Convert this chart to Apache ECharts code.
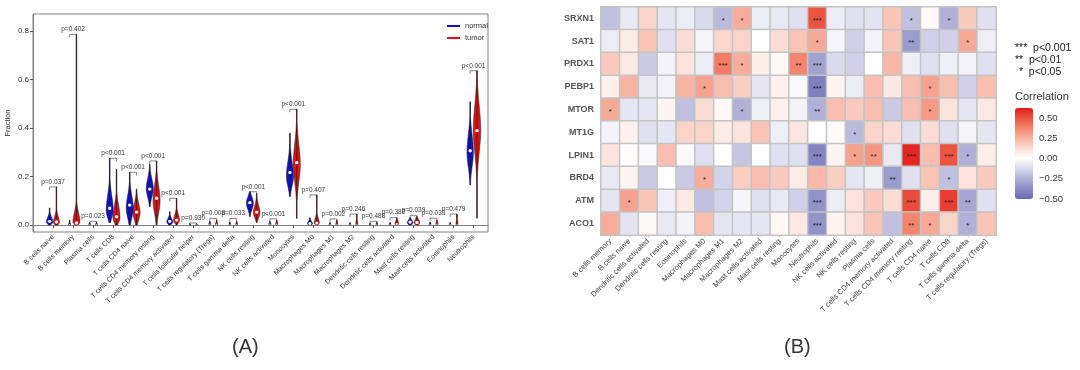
<!DOCTYPE html>
<html><head><meta charset="utf-8">
<script src="https://cdn.jsdelivr.net/npm/echarts@6/dist/echarts.min.js"></script>
<style>html,body{margin:0;padding:0;background:#fff}#c{width:1080px;height:370px}</style>
</head><body><div id="c"></div>
<script>
// ---------- Panel A: violin data ----------
const violinCats = ['B cells naive','B cells memory','Plasma cells','T cells CD8','T cells CD4 naive','T cells CD4 memory resting','T cells CD4 memory activated','T cells follicular helper','T cells regulatory (Tregs)','T cells gamma delta','NK cells resting','NK cells activated','Monocytes','Macrophages M0','Macrophages M1','Macrophages M2','Dendritic cells resting','Dendritic cells activated','Mast cells resting','Mast cells activated','Eosinophils','Neutrophils'];
const groups = ['normal','tumor'];
const normMin  = [0,0,0,0.01,0,0.075,0,0,0,0,0.034,0,0.117,0,0,0,0,0,0,0,0,0.165];
const normMax  = [0.07,0.02,0.01,0.275,0.217,0.25,0.055,0.005,0.015,0.012,0.137,0.015,0.378,0.03,0.01,0.01,0.008,0.01,0.03,0.012,0.01,0.508];
const normMed  = [0.015,0.002,0.002,0.069,0.082,0.148,0.015,0.001,0.003,0.002,0.092,0.003,0.216,0.006,0.002,0.002,0.001,0.002,0.012,0.002,0.002,0.306];
const normPeak = [0.012,0.002,0.002,0.06,0.07,0.15,0.012,0.001,0.003,0.002,0.09,0.003,0.2,0.005,0.002,0.002,0.001,0.002,0.01,0.002,0.002,0.3];
const normWidth = [3.2,1,1,3.5,3.5,3.5,3,0.8,1,1,3.5,1.2,3.5,2.5,1,1,0.8,1,2.8,1,1,3.2];
const normSpreadDown = [0.008,0.002,0.002,0.03,0.04,0.035,0.008,0.001,0.003,0.002,0.025,0.003,0.04,0.005,0.002,0.002,0.001,0.002,0.008,0.002,0.002,0.06];
const normSpreadUp = [0.02,0.006,0.004,0.06,0.05,0.04,0.015,0.002,0.006,0.005,0.025,0.006,0.06,0.01,0.004,0.004,0.003,0.004,0.01,0.005,0.004,0.07];

const tumorMin  = [0,0,0,0,0,0,0,0,0,0,0.01,0,0.027,0,0,0,0,0,0,0,0,0.028];
const tumorMax  = [0.157,0.786,0.012,0.23,0.148,0.264,0.11,0.005,0.02,0.015,0.13,0.02,0.477,0.124,0.02,0.045,0.012,0.03,0.035,0.02,0.045,0.636];
const tumorMed  = [0.012,0.008,0.002,0.034,0.053,0.11,0.02,0.001,0.003,0.003,0.053,0.003,0.257,0.008,0.003,0.003,0.002,0.004,0.01,0.003,0.003,0.389];
const tumorPeak = [0.01,0.01,0.002,0.03,0.05,0.1,0.018,0.001,0.003,0.003,0.05,0.003,0.25,0.008,0.003,0.003,0.002,0.004,0.01,0.003,0.003,0.39];
const tumorWidth = [3,3.5,1,3.5,3.5,3.5,3,0.8,1.2,1,3.3,1.2,3.5,2.5,1,1,0.8,1.8,2.8,1.2,1,3.7];
const tumorSpreadDown = [0.008,0.008,0.002,0.02,0.03,0.05,0.01,0.001,0.003,0.003,0.02,0.003,0.07,0.006,0.003,0.003,0.002,0.004,0.008,0.003,0.003,0.09];
const tumorSpreadUp = [0.025,0.04,0.005,0.05,0.04,0.06,0.025,0.002,0.008,0.006,0.03,0.008,0.08,0.02,0.008,0.015,0.005,0.012,0.012,0.008,0.015,0.1];

const pBracket = [0.157,0.786,0.015,0.275,0.217,0.264,0.11,0.008,0.027,0.027,0.137,0.025,0.477,0.124,0.025,0.045,0.015,0.03,0.04,0.028,0.045,0.636];
const pText = ['p=0.037','p=0.402','p=0.023','p<0.001','p<0.001','p<0.001','p<0.001','p=0.930','p=0.008','p=0.033','p<0.001','p<0.001','p<0.001','p=0.407','p=0.002','p=0.246','p=0.488','p=0.380','p=0.039','p=0.033','p=0.479','p<0.001'];
const fractionTicks = [0, 0.2, 0.4, 0.6, 0.8];

// ---------- Panel B: correlation heatmap ----------
const heatCols = ['B cells memory','B cells naive','Dendritic cells activated','Dendritic cells resting','Eosinophils','Macrophages M0','Macrophages M1','Macrophages M2','Mast cells activated','Mast cells resting','Monocytes','Neutrophils','NK cells activated','NK cells resting','Plasma cells','T cells CD4 memory activated','T cells CD4 memory resting','T cells CD4 naive','T cells CD8','T cells gamma delta','T cells regulatory (Tregs)'];
const heatRows = ['SRXN1','SAT1','PRDX1','PEBP1','MTOR','MT1G','LPIN1','BRD4','ATM','ACO1'];
const corrSRXN1 = [-0.2,-0.07,0.15,-0.08,-0.06,-0.12,-0.22,0.27,-0.06,-0.07,-0.1,0.5,-0.06,-0.1,-0.09,0.2,-0.2,0.02,-0.25,0.18,-0.1];
const corrSAT1  = [-0.06,0.07,0.2,-0.1,0.12,-0.03,0.14,0.15,0.0,0.12,0.2,0.28,-0.03,-0.15,-0.04,0.2,-0.32,-0.15,-0.15,0.28,-0.05];
const corrPRDX1 = [0.18,0.08,-0.17,-0.04,0.1,-0.06,0.4,0.27,0.06,0.02,0.38,-0.3,-0.12,-0.15,0.0,0.24,-0.05,-0.1,-0.05,-0.04,-0.1];
const corrPEBP1 = [0.05,0.25,-0.07,-0.04,0.25,0.3,0.22,0.17,-0.08,0.05,-0.02,-0.42,0.04,-0.06,0.22,0.08,0.22,0.3,0.22,-0.15,0.22];
const corrMTOR  = [0.28,-0.08,-0.08,0.04,-0.2,0.12,0.02,-0.25,-0.05,0.05,-0.04,-0.25,0.22,0.18,0.22,-0.17,0.22,0.32,0.1,-0.08,0.08];
const corrMT1G  = [-0.04,0.05,-0.1,-0.08,0.15,0.15,0.07,0.1,0.2,-0.05,0.09,0.0,0.02,-0.22,0.15,0.12,-0.1,0.12,-0.1,-0.03,-0.08];
const corrLPIN1 = [0.1,0.01,-0.02,0.22,-0.02,-0.1,0.0,-0.18,0.0,-0.1,-0.1,-0.4,0.04,0.3,0.33,-0.07,0.6,0.22,0.5,-0.25,0.06];
const corrBRD4  = [-0.07,0.04,-0.17,0.0,-0.17,0.27,-0.14,0.17,0.22,0.18,0.07,0.23,0.17,-0.08,-0.05,-0.32,-0.1,0.2,-0.2,0.1,0.18];
const corrATM   = [-0.08,0.3,0.2,-0.05,0.08,-0.2,-0.14,-0.03,-0.1,-0.07,-0.15,-0.35,-0.06,0.1,0.18,0.12,0.52,0.06,0.55,-0.28,-0.1];
const corrACO1  = [0.27,-0.09,0.03,-0.07,-0.04,0.22,-0.08,-0.08,-0.08,0.03,0.08,-0.35,0.04,0.1,0.2,-0.2,0.38,0.28,0.15,-0.25,0.2];
const corrMatrix = [corrSRXN1,corrSAT1,corrPRDX1,corrPEBP1,corrMTOR,corrMT1G,corrLPIN1,corrBRD4,corrATM,corrACO1];
// significance marks: [row, col, mark]
const sigMarks = [
  [0,6,'*'],[0,7,'*'],[0,11,'***'],[0,16,'*'],[0,18,'*'],
  [1,11,'*'],[1,16,'**'],[1,19,'*'],
  [2,6,'***'],[2,7,'*'],[2,10,'**'],[2,11,'***'],
  [3,5,'*'],[3,11,'***'],[3,17,'*'],
  [4,0,'*'],[4,7,'*'],[4,11,'**'],[4,17,'*'],
  [5,13,'*'],
  [6,11,'***'],[6,13,'*'],[6,14,'**'],[6,16,'***'],[6,18,'***'],[6,19,'*'],
  [7,5,'*'],[7,15,'**'],[7,18,'*'],
  [8,1,'*'],[8,11,'***'],[8,16,'***'],[8,18,'***'],[8,19,'**'],
  [9,11,'***'],[9,16,'**'],[9,17,'*'],[9,19,'*']
];
const colorbarTicks = [-0.5, -0.25, 0, 0.25, 0.5];
const sigLegend = ['***  p<0.001', '**  p<0.01', ' *  p<0.05'];

// ---------- build ----------
const FONT = 'Liberation Sans, Arial, sans-serif';
const OFF = 0.17;
const normData = violinCats.map((c, i) => [i + 1, normMin[i], normMax[i], normMed[i], normPeak[i], normWidth[i], normSpreadDown[i], normSpreadUp[i]]);
const tumorData = violinCats.map((c, i) => [i + 1, tumorMin[i], tumorMax[i], tumorMed[i], tumorPeak[i], tumorWidth[i], tumorSpreadDown[i], tumorSpreadUp[i]]);
const bracketData = violinCats.map((c, i) => [i + 1, pBracket[i]]);

const sigLookup = {};
sigMarks.forEach(s => { sigLookup[s[0] + '_' + s[1]] = s[2]; });
const heatData = [];
corrMatrix.forEach((row, r) => row.forEach((v, c) => heatData.push([c, r, v])));

function violinRender(offset) {
  return function (params, api) {
    const cat = api.value(0), lo = api.value(1), hi = api.value(2), med = api.value(3),
      peak = api.value(4), hw = api.value(5), sd = api.value(6), su = api.value(7);
    const cx = api.coord([cat + offset, 0])[0];
    const right = [], left = [];
    const N = 80;
    for (let k = 0; k <= N; k++) {
      const y = lo + (hi - lo) * k / N;
      const s = y < peak ? sd : su;
      const z = (y - peak) / s;
      const w = Math.max(hw * Math.exp(-0.5 * z * z), 0.3);
      const py = api.coord([cat, y])[1];
      right.push([cx + w, py]);
      left.unshift([cx - w, py]);
    }
    const color = api.visual('color');
    return {
      type: 'group', children: [
        { type: 'polygon', shape: { points: right.concat(left) }, style: { fill: color, stroke: '#111', lineWidth: 0.5 } },
        { type: 'line', shape: { x1: cx, y1: api.coord([cat, lo])[1], x2: cx, y2: api.coord([cat, hi])[1] }, style: { stroke: '#111', lineWidth: 0.6 } },
        { type: 'circle', shape: { cx: cx, cy: api.coord([cat, med])[1], r: Math.min(1.7, hw * 0.6) }, style: { fill: '#fff' } }
      ]
    };
  };
}
function bracketRender(params, api) {
  const cat = api.value(0), yb = api.value(1);
  const l = api.coord([cat - OFF, yb]), r = api.coord([cat + OFF, yb]);
  return {
    type: 'group', children: [
      { type: 'polyline', shape: { points: [[l[0], l[1] + 3], [l[0], l[1]], [r[0], r[1]], [r[0], r[1] + 3]] }, style: { stroke: '#333', lineWidth: 0.6, fill: null } },
      { type: 'text', style: { text: pText[params.dataIndex], x: (l[0] + r[0]) / 2, y: l[1] - 1.5, align: 'center', verticalAlign: 'bottom', fontSize: 6.5, fill: '#333', fontFamily: FONT } }
    ]
  };
}

const chart = echarts.init(document.getElementById('c'), null, { renderer: 'canvas' });
const option = {
  animation: false,
  backgroundColor: '#fff',
  textStyle: { fontFamily: FONT },
  legend: {
    data: groups, left: 442, top: 17, orient: 'vertical', icon: 'rect',
    itemWidth: 13, itemHeight: 2, itemGap: 4, textStyle: { fontSize: 7.5, color: '#333' }
  },
  grid: [
    { left: 33, top: 14, width: 455, height: 218, show: true, borderColor: '#808080', borderWidth: 1 },
    { left: 601, top: 7, width: 395, height: 228, show: true, borderColor: '#c4c4c4', borderWidth: 2, backgroundColor: '#c4c4c4' },
    { left: 1015, top: 108, width: 18, height: 91 }
  ],
  xAxis: [
    {
      type: 'value', gridIndex: 0, min: 0, max: 22.72,
      axisLine: { show: true, lineStyle: { color: '#808080' } },
      axisTick: { show: true, customValues: violinCats.map((c, i) => i + 1), length: 3, lineStyle: { color: '#555' } },
      axisLabel: { customValues: violinCats.map((c, i) => i + 1), formatter: v => violinCats[Math.round(v) - 1] || '', rotate: 45, fontSize: 7, color: '#333', margin: 4 },
      splitLine: { show: false }
    },
    {
      type: 'category', gridIndex: 1, data: heatCols,
      axisLine: { show: false },
      axisTick: { show: true, alignWithLabel: true, length: 2, lineStyle: { color: '#ccc' } },
      axisLabel: { rotate: 45, interval: 0, fontSize: 7.5, color: '#444', margin: 5 }
    },
    { type: 'value', gridIndex: 2, show: false, min: 0, max: 1 }
  ],
  yAxis: [
    {
      type: 'value', gridIndex: 0, min: -0.029, max: 0.87,
      name: 'Fraction', nameLocation: 'middle', nameGap: 21, nameTextStyle: { fontSize: 7.5, color: '#333' },
      axisLine: { show: true, lineStyle: { color: '#808080' } },
      axisTick: { show: true, customValues: fractionTicks, length: 3, lineStyle: { color: '#555' } },
      axisLabel: { customValues: fractionTicks, formatter: v => v.toFixed(1), fontSize: 8, color: '#333', margin: 4 },
      splitLine: { show: false }
    },
    {
      type: 'category', gridIndex: 1, data: heatRows, inverse: true,
      axisLine: { show: false }, axisTick: { show: false },
      axisLabel: { fontWeight: 'bold', fontSize: 9, color: '#555', margin: 7 }
    },
    {
      type: 'value', gridIndex: 2, min: -0.5, max: 0.625, position: 'right', z: 10,
      axisLine: { show: false },
      axisTick: { show: true, inside: true, customValues: colorbarTicks, length: 3, lineStyle: { color: '#fff', width: 1 } },
      axisLabel: { customValues: colorbarTicks, formatter: v => v.toFixed(2).replace('-', '\u2212'), fontSize: 9.5, color: '#333', margin: 6 },
      splitLine: { show: false }
    }
  ],
  visualMap: {
    type: 'continuous', seriesIndex: 3, dimension: 2, min: -0.5, max: 0.625,
    inRange: { color: ['#6a6ab5', '#8c8cc6', '#b0b0d8', '#d8d8ec', '#ffffff', '#fcdcd3', '#f8b4a3', '#f3866f', '#ec5442', '#e31a1c'] },
    left: 1015, top: 108, itemWidth: 18, itemHeight: 91, calculable: false, padding: 0, orient: 'vertical'
  },
  graphic: [
    { type: 'text', left: 232, top: 337, style: { text: '(A)', fontSize: 20, fill: '#333', fontFamily: FONT } },
    { type: 'text', left: 784, top: 337, style: { text: '(B)', fontSize: 20, fill: '#333', fontFamily: FONT } },
    { type: 'text', left: 1015, top: 43, style: { text: sigLegend[0], fontSize: 10.5, fill: '#222', fontFamily: FONT } },
    { type: 'text', left: 1015, top: 55, style: { text: sigLegend[1], fontSize: 10.5, fill: '#222', fontFamily: FONT } },
    { type: 'text', left: 1016, top: 67, style: { text: sigLegend[2], fontSize: 10.5, fill: '#222', fontFamily: FONT } },
    { type: 'text', left: 1015, top: 91, style: { text: 'Correlation', fontSize: 11, fill: '#333', fontFamily: FONT } }
  ],
  series: [
    { name: 'normal', type: 'custom', xAxisIndex: 0, yAxisIndex: 0, itemStyle: { color: '#1414c4' }, renderItem: violinRender(-OFF), data: normData, encode: { x: 0, y: [1, 2] } },
    { name: 'tumor', type: 'custom', xAxisIndex: 0, yAxisIndex: 0, itemStyle: { color: '#e01212' }, renderItem: violinRender(OFF), data: tumorData, encode: { x: 0, y: [1, 2] } },
    { name: 'pvalue', type: 'custom', xAxisIndex: 0, yAxisIndex: 0, renderItem: bracketRender, data: bracketData, encode: { x: 0, y: 1 }, silent: true },
    {
      name: 'corr', type: 'heatmap', xAxisIndex: 1, yAxisIndex: 1, data: heatData,
      itemStyle: { borderColor: '#c4c4c4', borderWidth: 1.5 },
      label: { show: true, formatter: p => sigLookup[p.data[1] + '_' + p.data[0]] || '', fontSize: 8, color: '#222', offset: [0, 2] },
      emphasis: { disabled: true }
    }
  ]
};
chart.setOption(option);
</script></body></html>
